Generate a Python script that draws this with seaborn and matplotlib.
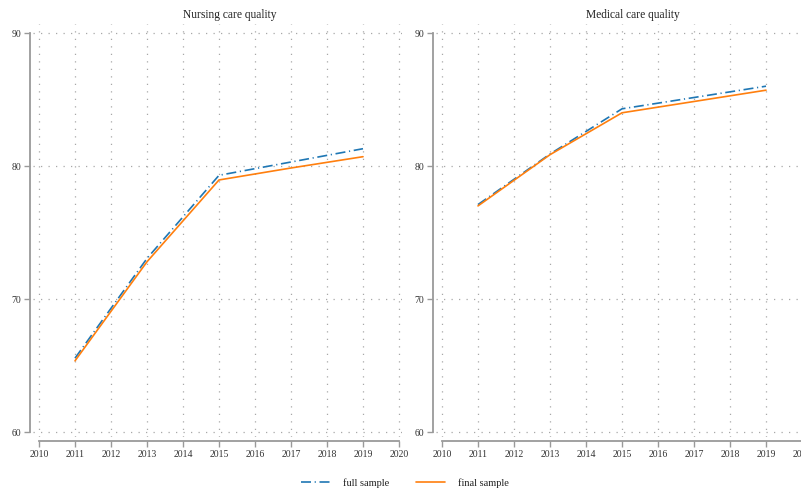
import numpy as np
import pandas as pd
import matplotlib
matplotlib.use("Agg")
import matplotlib.pyplot as plt
from matplotlib.lines import Line2D
import seaborn as sns

# Survey waves and mean quality scores
years = [2011, 2013, 2015, 2017, 2019]
nursing_full = [65.55, 73.05, 79.3, 80.3, 81.3]
nursing_final = [65.35, 72.8, 78.95, 79.85, 80.7]
medical_full = [77.1, 80.9, 84.3, 85.15, 86.0]
medical_final = [77.0, 80.85, 84.0, 84.85, 85.7]

panel_titles = ["Nursing care quality", "Medical care quality"]
sample_labels = ["full sample", "final sample"]
x_ticks = list(range(2010, 2021))
y_ticks = [60, 70, 80, 90]

sns.set_theme(style="white")
plt.rcParams["font.family"] = ["Liberation Serif", "DejaVu Serif"]

BLUE = "#1f77b4"
ORANGE = "#ff7f0e"
SPINE = "#9a9a9a"
GRID = "#a8a8a8"
DASHDOT = (0, (6, 2.2, 0.7, 2.2))

fig = plt.figure(figsize=(8.01, 4.90), dpi=100)
W, H = 801, 490

def make_axes(left_px):
    return fig.add_axes([left_px / W, (H - 437) / H, 369 / W, 413 / H])

panels = [
    (make_axes(33), nursing_full, nursing_final),
    (make_axes(436), medical_full, medical_final),
]

for (ax, full, final), title in zip(panels, panel_titles):
    df = pd.DataFrame({
        "year": years * 2,
        "score": full + final,
        "sample": [sample_labels[0]] * len(years) + [sample_labels[1]] * len(years),
    })
    sns.lineplot(
        data=df, x="year", y="score", hue="sample", style="sample",
        palette={sample_labels[0]: BLUE, sample_labels[1]: ORANGE},
        dashes={sample_labels[0]: DASHDOT[1], sample_labels[1]: ""},
        linewidth=1.2, legend=False, ax=ax, zorder=3,
    )

    ax.set_xlim(2010 - 6 / 36, 2010 + 363 / 36)
    ax.set_ylim(60 - 5 / 13.3, 90 + 9 / 13.3)
    ax.set_xticks(x_ticks)
    ax.set_yticks(y_ticks)
    ax.set_xlabel("")
    ax.set_ylabel("")

    ax.grid(True, color=GRID, linestyle=(0, (1, 5)), linewidth=0.9)
    ax.set_axisbelow(True)

    for side in ("top", "right"):
        ax.spines[side].set_visible(False)
    ax.spines["left"].set_position(("outward", 2.2))
    ax.spines["bottom"].set_position(("outward", 3.0))
    ax.spines["left"].set_bounds(60, 90)
    ax.spines["bottom"].set_bounds(2010, 2020)
    for side in ("left", "bottom"):
        ax.spines[side].set_color(SPINE)
        ax.spines[side].set_linewidth(1.3)

    ax.tick_params(axis="both", which="major", direction="out", length=4,
                   width=1.0, color=SPINE, labelsize=7, labelcolor="#333333",
                   pad=2, left=True, bottom=True)
    ax.set_facecolor("none")

    ax.text(2015.3, 1.0 + 9 / 413, title,
            transform=ax.get_xaxis_transform(), ha="center", va="center",
            fontsize=8.3, color="#222222")

handles = [
    Line2D([], [], color=BLUE, linewidth=1.2, linestyle=DASHDOT),
    Line2D([], [], color=ORANGE, linewidth=1.2),
]
fig.legend(handles, sample_labels, loc="center", ncol=2,
           bbox_to_anchor=(405 / W, 1 - 483 / H), frameon=False,
           fontsize=7.5, handlelength=2.8, columnspacing=2.6,
           handletextpad=1.2, labelcolor="#222222")

fig.savefig("out.png", dpi=100, facecolor="white")
